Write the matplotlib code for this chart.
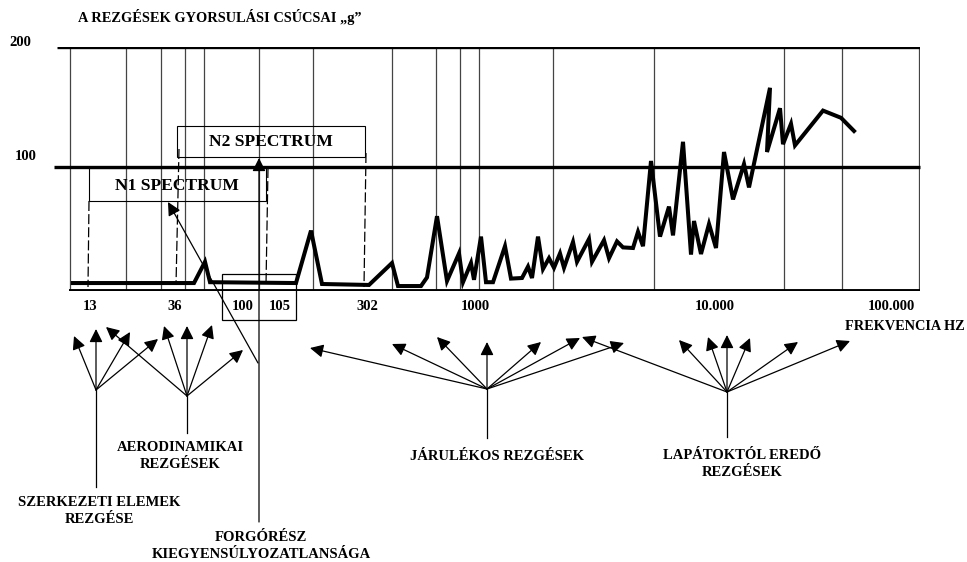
import matplotlib
matplotlib.use("Agg")
import matplotlib.pyplot as plt
from matplotlib.patches import Rectangle

plt.rcParams['font.family'] = ['Liberation Serif', 'DejaVu Serif']
plt.rcParams['font.weight'] = 'bold'

# schematic frequency position along the axis and peak acceleration in g
pos = [73, 194, 205, 210, 296, 311, 322, 369, 392, 398, 421, 427, 437, 447,
       459, 463, 471, 474, 481, 486, 493, 505, 511, 522, 528, 532, 538, 543,
       549, 554, 560, 564, 573, 577, 589, 592, 604, 609, 617, 623, 633, 638,
       643, 651, 660, 669, 673, 683, 691, 694, 701, 709, 716, 724, 733, 744,
       749, 770, 767, 780, 783, 791, 795, 823, 841, 854]
g_peak = [3.3, 3.3, 21, 4, 3.3, 47, 2.5, 1.7, 20, 0.8, 0.8, 8, 59, 5,
          28, 4, 20, 6, 42, 4, 4, 34, 7, 7.5, 17, 7.5, 42, 15,
          24, 16, 28, 16, 37.5, 21, 40, 21, 39, 24, 38, 33, 32.5, 46,
          34, 105, 42, 67, 43, 121, 27, 55, 27.5, 52.5, 32.5, 112.5, 73, 102.5,
          83, 166, 112.5, 149, 119, 136, 118, 147, 141, 130]

grid_pos = [70, 126, 161, 185, 204, 259, 313, 392, 436, 460, 479, 553, 654,
            784, 842, 919]
tick_pos = [90, 175, 243, 280, 367, 475, 715, 891]
tick_labels = ['13', '36', '100', '105', '302', '1000', '10.000', '100.000']
levels = [100, 200]

W, H = 967, 562
fig = plt.figure(figsize=(W / 100, H / 100), dpi=100)

# main chart area: top line = 200 g, 1.2 px per g
x0, x1, ytop, ybot = 57, 920, 47, 291
ax = fig.add_axes([x0 / W, 1 - ybot / H, (x1 - x0) / W, (ybot - ytop) / H])
ax.set_xlim(x0, x1)
ax.set_ylim(200 - (ybot - ytop) / 1.2, 200)
ax.axis('off')

ax.vlines(grid_pos, ax.get_ylim()[0], 200, color='#444444', lw=0.9, zorder=1)
ax.hlines(levels[1], 57, 920, color='black', lw=2.4, zorder=2)
ax.hlines(levels[0], 54, 920, color='black', lw=2.4, zorder=2, clip_on=False)
ax.hlines(ax.get_ylim()[0], 69, 920, color='black', lw=2.8, zorder=2)
ax.plot(pos, g_peak, color='black', lw=2.9, solid_joinstyle='miter', zorder=3)

# overlay in pixel coordinates for the labels, boxes and arrows
ov = fig.add_axes([0, 0, 1, 1], facecolor='none')
ov.set_xlim(0, W)
ov.set_ylim(H, 0)
ov.axis('off')

ov.text(78, 17, 'A REZGÉSEK GYORSULÁSI CSÚCSAI „g”', fontsize=10.4,
        ha='left', va='center')
ov.text(20, 42, '200', fontsize=10.5, ha='center', va='center')
ov.text(26, 157, '100', fontsize=10.5, ha='center', va='center')

for p, lab in zip(tick_pos, tick_labels):
    ov.text(p, 307, lab, fontsize=10.5, ha='center', va='center')
ov.text(845, 327, 'FREKVENCIA HZ', fontsize=10.3, ha='left', va='center')

# spectrum boxes
ov.add_patch(Rectangle((89, 168), 177, 33, fill=False, lw=0.8, ec='black'))
ov.text(177, 186, 'N1 SPECTRUM', fontsize=12.6, ha='center', va='center')
ov.add_patch(Rectangle((177, 126), 188, 31, fill=False, lw=0.8, ec='black'))
ov.text(271, 142, 'N2 SPECTRUM', fontsize=12.6, ha='center', va='center')
ov.add_patch(Rectangle((222, 274), 74, 46, fill=False, lw=0.9, ec='black'))

dashed = [((89, 201), (88, 287)), ((268, 168), (266, 285)),
          ((179, 149), (176, 285)), ((366, 153), (364, 287))]
for (xa, ya), (xb, yb) in dashed:
    ov.plot([xa, xb], [ya, yb], color='black', lw=0.9, ls=(0, (8, 2.5)))


def arrow(start, tip):
    ov.annotate('', xy=tip, xytext=start,
                arrowprops=dict(arrowstyle='-|>', color='black', lw=0.9,
                                mutation_scale=20, shrinkA=0, shrinkB=0))


# rotor unbalance pointers
arrow((259, 522), (259, 158))
arrow((258, 363), (168, 202))

groups = [
    ((96, 390), (96, 487), [(74, 336), (96, 329), (130, 332), (158, 339)]),
    ((187, 396), (187, 433), [(106, 327), (164, 326), (187, 326), (212, 325),
                              (243, 350)]),
    ((487, 389), (487, 438), [(310, 348), (392, 344), (437, 337), (487, 342),
                              (541, 342), (580, 338), (624, 343)]),
    ((727, 392), (727, 437), [(582, 337), (679, 340), (708, 337), (727, 335),
                              (750, 338), (798, 342), (850, 341)]),
]
for (ox, oy), (sx, sy), tips in groups:
    ov.plot([sx, ox], [sy, oy], color='black', lw=0.9)
    for t in tips:
        arrow((ox, oy), t)

ov.text(99, 511, 'SZERKEZETI ELEMEK\nREZGÉSE', fontsize=10.5, ha='center',
        va='center', linespacing=1.4)
ov.text(180, 456, 'AERODINAMIKAI\nREZGÉSEK', fontsize=10.5, ha='center',
        va='center', linespacing=1.4)
ov.text(261, 546, 'FORGÓRÉSZ\nKIEGYENSÚLYOZATLANSÁGA', fontsize=10.5,
        ha='center', va='center', linespacing=1.4)
ov.text(497, 457, 'JÁRULÉKOS REZGÉSEK', fontsize=10.5, ha='center',
        va='center')
ov.text(742, 464, 'LAPÁTOKTÓL EREDŐ\nREZGÉSEK', fontsize=10.5, ha='center',
        va='center', linespacing=1.4)

fig.savefig('out.png', dpi=100)
